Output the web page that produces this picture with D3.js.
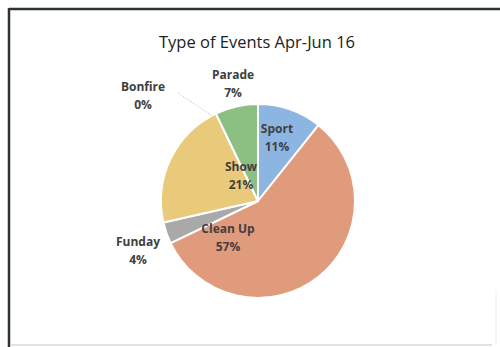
<!DOCTYPE html>
<html><head><meta charset="utf-8">
<script src="https://cdn.jsdelivr.net/npm/d3@7"></script>
<style>html,body{margin:0;padding:0;background:#fff;}svg{display:block;}</style>
</head><body>
<svg id="c" width="500" height="347"></svg>
<script>
const title = "Type of Events Apr-Jun 16";
const categories = ["Sport", "Clean Up", "Funday", "Show", "Bonfire", "Parade"];
const values = [3, 16, 1, 6, 0, 2];
const colors = ["#8cb5e2", "#e09b7c", "#a9a9a9", "#e9c97a", "#c9c9c9", "#8cbf82"];
// label positions (relative to center) as hand-placed offsets per category
const labelPos = [[19, -68], [-30, 32], [-120, 45], [-17, -30], [-115, -110], [-25, -122]];

const svg = d3.select("#c");
// frame
svg.append("line").attr("x1", 9).attr("y1", 9).attr("x2", 500).attr("y2", 9).attr("stroke", "#2b3530").attr("stroke-width", 2.5);
svg.append("line").attr("x1", 9).attr("y1", 8).attr("x2", 9).attr("y2", 347).attr("stroke", "#2b3530").attr("stroke-width", 2.5);
svg.append("line").attr("x1", 10).attr("y1", 345).attr("x2", 492).attr("y2", 345).attr("stroke", "#d8d8d8").attr("stroke-width", 1.5);
svg.append("line").attr("x1", 496).attr("y1", 290).attr("x2", 496).attr("y2", 345).attr("stroke", "#eeeeee").attr("stroke-width", 1);

svg.append("text").attr("x", 257).attr("y", 48).attr("text-anchor", "middle")
  .attr("font-family", "'Open Sans', sans-serif").attr("font-size", 16.5).attr("fill", "#222")
  .text(title);

const cx = 258, cy = 201, r = 97;
const g = svg.append("g").attr("transform", `translate(${cx},${cy})`);
const total = d3.sum(values);
const pie = d3.pie().sort(null).value(d => d)(values);
const arc = d3.arc().innerRadius(0).outerRadius(r);
g.selectAll("path").data(pie).join("path")
  .attr("d", arc).attr("fill", (d, i) => colors[i])
  .attr("stroke", "#fff").attr("stroke-width", 2).attr("stroke-linejoin", "round");

// leader line for Bonfire
const bf = pie[4];
const pt = d3.arc().innerRadius(r).outerRadius(r).centroid(bf);
g.append("line").attr("x1", -80).attr("y1", -108).attr("x2", pt[0] - 4).attr("y2", pt[1] + 2)
  .attr("stroke", "#c8c8c8").attr("stroke-width", 1).attr("stroke-dasharray", "1.5,1.5");

const lab = g.selectAll("g.lab").data(pie).join("g").attr("class", "lab")
  .attr("transform", (d, i) => `translate(${labelPos[i][0]},${labelPos[i][1]})`);
lab.append("text").attr("text-anchor", "middle").attr("y", 0)
  .attr("font-family", "'Open Sans', sans-serif").attr("font-weight", "bold").attr("font-size", 12)
  .attr("fill", "#404040").text((d, i) => categories[i]);
lab.append("text").attr("text-anchor", "middle").attr("y", 18)
  .attr("font-family", "'Open Sans', sans-serif").attr("font-weight", "bold").attr("font-size", 12)
  .attr("fill", "#404040").text(d => Math.round(d.value / total * 100) + "%");
</script>
</body></html>
